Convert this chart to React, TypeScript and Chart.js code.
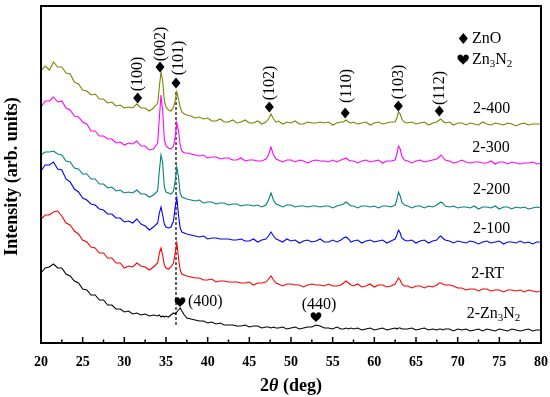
import React, { useEffect, useRef } from "react";
import { Chart, registerables } from "chart.js";
Chart.register(...registerables);

// 2θ grid (deg)
const twoTheta = [
  20, 20.5, 21, 21.5, 22, 22.5, 23, 23.5, 24, 24.5, 25, 25.5, 26, 26.5, 27, 27.5, 28, 28.5, 29, 29.5, 30, 30.5, 31, 31.5, 32, 32.5, 33, 33.5,
  34.0, 34.2, 34.4, 34.6, 34.8, 35.0, 35.3, 35.6, 35.9, 36.1, 36.3, 36.5, 36.7, 36.9, 37.2, 37.5,
  38, 38.5, 39, 39.5, 40, 40.5, 41, 41.5, 42, 42.5, 43, 43.5, 44, 44.5, 45, 45.5, 46, 46.5, 47,
  47.3, 47.6, 47.9, 48.2,
  48.5, 49, 49.5, 50, 50.5, 51, 51.5, 52, 52.5, 53, 53.5, 54, 54.5, 55, 55.5, 56,
  56.3, 56.6, 56.9, 57.2,
  57.5, 58, 58.5, 59, 59.5, 60, 60.5, 61, 61.5, 62, 62.5,
  62.7, 62.9, 63.1, 63.3, 63.6,
  64, 64.5, 65, 65.5, 66, 66.5, 67, 67.5,
  67.8, 68.0, 68.2, 68.5,
  69, 69.5, 70, 70.5, 71, 71.5, 72, 72.5, 73, 73.5, 74, 74.5, 75, 75.5, 76, 76.5, 77, 77.5, 78, 78.5, 79, 79.5, 80,
];

// Intensity (arb. units, offset stacked)
const s400 = [
  272, 277, 273, 281, 276, 276, 270, 269, 261, 259, 253, 252, 248, 249, 244, 244, 240, 241, 237, 238, 235, 236, 235, 239, 235, 235, 232, 235,
  240, 256, 271, 262, 242, 236, 233, 232, 236, 242, 251, 244, 236, 231, 229, 228,
  227, 225, 226, 224, 225, 222, 222, 224, 221, 221, 223, 220, 221, 223, 220, 220, 222, 219, 221,
  224, 229, 224, 221,
  222, 219, 221, 220, 222, 219, 219, 221, 220, 220, 221, 220, 221, 218, 220, 221,
  221, 223, 221, 220,
  221, 219, 220, 221, 218, 220, 221, 219, 220, 221, 221,
  225, 231, 229, 224, 221,
  220, 221, 219, 220, 221, 218, 220, 221,
  223, 224, 222, 220,
  221, 218, 220, 220, 218, 220, 219, 218, 221, 219, 218, 220, 219, 218, 220, 219, 217, 219, 220, 218, 219, 219, 219,
];
const s300 = [
  236, 242, 242, 246, 241, 242, 235, 233, 227, 226, 221, 219, 212, 212, 207, 207, 204, 204, 200, 201, 198, 200, 199, 202, 197, 197, 193, 194,
  200, 225, 248, 232, 203, 197, 195, 194, 197, 206, 220, 212, 198, 192, 190, 190,
  189, 188, 187, 188, 185, 186, 186, 184, 185, 185, 183, 183, 185, 182, 183, 183, 182, 182, 184,
  188, 196, 188, 184,
  183, 181, 183, 183, 181, 183, 182, 180, 182, 183, 182, 182, 181, 183, 181, 183,
  184, 185, 183, 182,
  182, 180, 182, 183, 181, 182, 183, 180, 182, 182, 183,
  189, 197, 194, 187, 183,
  182, 180, 182, 183, 181, 182, 183, 184,
  186, 188, 186, 183,
  182, 180, 181, 183, 181, 180, 181, 181, 180, 180, 182, 179, 181, 181, 179, 181, 180, 179, 180, 180, 181, 179, 180,
];
const s200 = [
  188, 191, 191, 192, 189, 188, 182, 181, 175, 174, 169, 169, 164, 164, 159, 159, 155, 156, 152, 153, 150, 151, 150, 153, 149, 149, 146, 148,
  152, 172, 188, 180, 156, 151, 150, 149, 152, 162, 176, 166, 150, 146, 145, 144,
  143, 142, 143, 140, 141, 141, 139, 140, 140, 138, 139, 139, 137, 138, 138, 137, 138, 136, 138,
  143, 150, 143, 139,
  138, 136, 138, 138, 136, 137, 137, 136, 137, 137, 136, 137, 137, 135, 137, 138,
  139, 141, 139, 137,
  137, 135, 137, 137, 136, 137, 135, 137, 137, 136, 138,
  143, 151, 147, 141, 138,
  137, 135, 137, 137, 135, 137, 136, 138,
  140, 141, 140, 137,
  136, 137, 135, 136, 136, 135, 137, 134, 136, 136, 135, 137, 134, 136, 136, 134, 136, 135, 136, 134, 135, 136, 135,
];
const s100 = [
  172, 178, 178, 181, 174, 173, 164, 161, 154, 151, 145, 143, 139, 138, 134, 133, 129, 129, 125, 125, 121, 122, 120, 124, 119, 117, 113, 116,
  120, 130, 136, 128, 119, 116, 115, 116, 122, 136, 145, 128, 115, 111, 110, 109,
  108, 107, 106, 107, 104, 105, 105, 104, 104, 104, 103, 103, 104, 102, 102, 104, 101, 103, 104,
  107, 111, 107, 104,
  103, 101, 104, 102, 103, 100, 102, 103, 101, 102, 104, 101, 101, 103, 101, 103,
  105, 106, 104, 101,
  102, 103, 100, 102, 103, 101, 102, 103, 100, 102, 104,
  108, 113, 110, 105, 103,
  102, 103, 100, 102, 103, 100, 102, 103,
  106, 107, 105, 103,
  102, 100, 102, 101, 100, 102, 101, 99, 101, 102, 100, 101, 102, 99, 101, 101, 100, 102, 100, 101, 99, 101, 101,
];
const sRT = [
  124, 128, 128, 131, 132, 127, 120, 118, 112, 109, 103, 101, 96, 95, 90, 90, 85, 85, 80, 80, 75, 77, 76, 80, 77, 76, 73, 76,
  80, 90, 95, 88, 78, 75, 74, 76, 80, 90, 100, 85, 73, 69, 68, 67,
  66, 65, 65, 63, 63, 64, 61, 62, 62, 61, 61, 61, 60, 60, 61, 58, 60, 60, 61,
  64, 67, 63, 60,
  59, 57, 59, 59, 58, 58, 56, 58, 59, 58, 58, 57, 59, 57, 57, 58,
  60, 62, 60, 58,
  57, 59, 56, 57, 59, 56, 58, 58, 56, 57, 59,
  62, 65, 63, 59, 57,
  57, 55, 57, 57, 55, 57, 56, 58,
  60, 60, 59, 58,
  58, 57, 55, 55, 53, 54, 54, 52, 54, 54, 52, 53, 53, 51, 53, 53, 52, 53, 51, 53, 52, 51, 52,
];
const sZn3N2 = [
  70, 75, 76, 79, 75, 75, 69, 67, 62, 60, 54, 53, 48, 48, 43, 43, 38, 38, 34, 34, 31, 32, 29, 30, 28, 29, 27, 28,
  27, 28, 26, 27, 26, 27, 26, 28, 30, 29, 31, 33, 35, 32, 28, 25,
  24, 23, 22, 22, 20, 21, 19, 20, 18, 18, 18, 17, 17, 18, 16, 17, 17, 15, 16,
  16, 15, 16, 15,
  15, 16, 14, 15, 16, 14, 15, 16, 16, 18, 17, 15, 15, 14, 16, 14,
  14, 15, 14, 15,
  14, 15, 13, 14, 15, 13, 14, 15, 13, 14, 15,
  14, 15, 15, 14, 14,
  14, 15, 13, 14, 15, 13, 14, 13,
  14, 14, 13, 14,
  14, 12, 14, 13, 14, 12, 13, 14, 12, 14, 13, 12, 14, 13, 12, 14, 13, 12, 13, 14, 12, 13, 13,
];

const seriesLabels = ["2-400", "2-300", "2-200", "2-100", "2-RT", "2-Zn3N2"];
const seriesValues = [s400, s300, s200, s100, sRT, sZn3N2];
const seriesColors = ["#808000", "#ff00ff", "#008080", "#0000ff", "#ff0000", "#000000"];

// reference dashed line at ZnO (101)
const refLineX = 36.2;
const refLineY = [18, 251];

// Peak annotations: [label, markerX, markerY, textX, textY]
const znoPeaks: [string, number, number, number, number][] = [
  ["(100)", 31.6, 245, 31.65, 269],
  ["(002)", 34.28, 276, 34.4, 299],
  ["(101)", 36.2, 260, 36.55, 285],
  ["(102)", 47.4, 236, 47.5, 260],
  ["(110)", 56.5, 230, 56.68, 257],
  ["(103)", 62.88, 237, 62.96, 261],
  ["(112)", 67.8, 232, 67.88, 255],
];
const zn3n2Peaks: [string, number, number, number, number, string][] = [
  ["(400)", 36.68, 41, 37.64, 41, "left"],
  ["(440)", 53.0, 26, 53.36, 38, "center"],
];
// sample label positions [x, y]
const sampleLabelPos: [number, number, string][] = [
  [74.08, 234.5, "center"],
  [74.0, 195, "center"],
  [74.08, 153, "center"],
  [74.08, 114.5, "center"],
  [73.6, 69.5, "center"],
  [71.08, 29.5, "left"],
];

const SERIF = "'Liberation Serif', 'Times New Roman', serif";

function drawDiamond(ctx: CanvasRenderingContext2D, x: number, y: number) {
  ctx.beginPath();
  ctx.moveTo(x, y - 5.5);
  ctx.lineTo(x + 4.5, y);
  ctx.lineTo(x, y + 5.5);
  ctx.lineTo(x - 4.5, y);
  ctx.closePath();
  ctx.fill();
}
function drawHeart(ctx: CanvasRenderingContext2D, x: number, y: number, s: number) {
  ctx.beginPath();
  ctx.moveTo(x, y + s * 0.55);
  ctx.bezierCurveTo(x - s * 0.1, y + s * 0.4, x - s * 0.6, y + s * 0.1, x - s * 0.6, y - s * 0.2);
  ctx.bezierCurveTo(x - s * 0.6, y - s * 0.6, x - s * 0.05, y - s * 0.65, x, y - s * 0.25);
  ctx.bezierCurveTo(x + s * 0.05, y - s * 0.65, x + s * 0.6, y - s * 0.6, x + s * 0.6, y - s * 0.2);
  ctx.bezierCurveTo(x + s * 0.6, y + s * 0.1, x + s * 0.1, y + s * 0.4, x, y + s * 0.55);
  ctx.closePath();
  ctx.fill();
}
function drawRich(ctx: CanvasRenderingContext2D, parts: [string, boolean][], x: number, y: number, size: number, align: string) {
  const main = `${size}px ${SERIF}`;
  const sub = `${Math.round(size * 0.68)}px ${SERIF}`;
  let w = 0;
  for (const [t, s] of parts) {
    ctx.font = s ? sub : main;
    w += ctx.measureText(t).width;
  }
  let cx = align === "center" ? x - w / 2 : x;
  ctx.textAlign = "left";
  ctx.textBaseline = "middle";
  for (const [t, s] of parts) {
    ctx.font = s ? sub : main;
    ctx.fillText(t, cx, s ? y + 5 : y);
    cx += ctx.measureText(t).width;
  }
}
function splitSub(label: string): [string, boolean][] {
  if (label === "2-Zn3N2") return [["2-Zn", false], ["3", true], ["N", false], ["2", true]];
  return [[label, false]];
}

const annotPlugin = {
  id: "annot",
  afterDatasetsDraw(chart: any) {
    const ctx: CanvasRenderingContext2D = chart.ctx;
    const xs = chart.scales.x;
    const ys = chart.scales.y;
    const px = (v: number) => xs.getPixelForValue(v);
    const py = (v: number) => ys.getPixelForValue(v);
    const { left, right, top, bottom } = chart.chartArea;
    ctx.save();
    ctx.fillStyle = "#000";
    ctx.strokeStyle = "#000";
    ctx.lineWidth = 2;
    ctx.strokeRect(left, top, right - left, bottom - top);
    ctx.lineWidth = 1.5;
    for (let i = 0; i <= 24; i++) {
      const t = 20 + i * 2.5;
      const x = px(t);
      ctx.beginPath();
      ctx.moveTo(x, bottom);
      ctx.lineTo(x, bottom - (i % 2 === 0 ? 6 : 3.5));
      ctx.stroke();
    }
    for (const [lab, mx, my, tx, ty] of znoPeaks) {
      drawDiamond(ctx, px(mx), py(my));
      ctx.save();
      ctx.translate(px(tx), py(ty));
      ctx.rotate(-Math.PI / 2);
      ctx.font = `16px ${SERIF}`;
      ctx.textAlign = "center";
      ctx.textBaseline = "middle";
      ctx.fillText(lab, 0, 0);
      ctx.restore();
    }
    for (const [lab, mx, my, tx, ty, al] of zn3n2Peaks) {
      drawHeart(ctx, px(mx), py(my), 9);
      ctx.font = `16px ${SERIF}`;
      ctx.textAlign = al as CanvasTextAlign;
      ctx.textBaseline = "middle";
      ctx.fillText(lab, px(tx), py(ty));
    }
    seriesLabels.forEach((lab, i) => {
      const [x, y, al] = sampleLabelPos[i];
      drawRich(ctx, splitSub(lab), px(x), py(y), 16, al);
    });
    drawDiamond(ctx, px(70.68), py(304.5));
    drawRich(ctx, [["ZnO", false]], px(71.72), py(304.5), 16, "left");
    drawHeart(ctx, px(70.66), py(283.5), 9.5);
    drawRich(ctx, [["Zn", false], ["3", true], ["N", false], ["2", true]], px(71.72), py(283.5), 16, "left");
    ctx.save();
    ctx.translate(12, (top + bottom) / 2 + 2);
    ctx.rotate(-Math.PI / 2);
    ctx.font = `bold 18px ${SERIF}`;
    ctx.textAlign = "center";
    ctx.textBaseline = "middle";
    ctx.fillText("Intensity (arb. units)", 0, 0);
    ctx.restore();
    const p1 = "2", p2 = "\u03B8", p3 = " (deg)";
    const fB = `bold 18px ${SERIF}`, fI = `italic bold 18px ${SERIF}`;
    ctx.font = fB; const w1 = ctx.measureText(p1).width; const w3 = ctx.measureText(p3).width;
    ctx.font = fI; const w2 = ctx.measureText(p2).width;
    let cx = (left + right) / 2 - (w1 + w2 + w3) / 2;
    const cy = 386;
    ctx.textAlign = "left";
    ctx.textBaseline = "middle";
    ctx.font = fB; ctx.fillText(p1, cx, cy); cx += w1;
    ctx.font = fI; ctx.fillText(p2, cx, cy); cx += w2;
    ctx.font = fB; ctx.fillText(p3, cx, cy);
    ctx.restore();
  },
};

export default function App() {
  const ref = useRef<HTMLCanvasElement>(null);
  useEffect(() => {
    if (!ref.current) return;
    const n = twoTheta.length;
    const datasets: any[] = seriesValues.map((vals, k) => ({
      label: seriesLabels[k],
      data: twoTheta.slice(0, Math.min(n, vals.length)).map((x, i) => ({ x, y: vals[i] })),
      borderColor: seriesColors[k],
      borderWidth: 1.1,
      pointRadius: 0,
      fill: false,
      tension: 0,
    }));
    datasets.push({
      label: "ref",
      data: [
        { x: refLineX, y: refLineY[0] },
        { x: refLineX, y: refLineY[1] },
      ],
      borderColor: "#000",
      borderWidth: 1.2,
      borderDash: [3, 2],
      pointRadius: 0,
      fill: false,
    });
    const chart = new Chart(ref.current, {
      type: "line",
      data: { datasets },
      options: {
        animation: false,
        responsive: true,
        maintainAspectRatio: false,
        layout: { padding: { top: 6, right: 9, left: 0, bottom: 0 } },
        plugins: { legend: { display: false }, tooltip: { enabled: false } },
        scales: {
          x: {
            type: "linear",
            min: 20,
            max: 80,
            grid: { display: false },
            border: { display: false },
            ticks: {
              stepSize: 5,
              color: "#000",
              padding: 3,
              maxRotation: 0,
              font: { family: SERIF, size: 14, weight: "bold" },
            },
            afterFit: (s: any) => {
              s.height = 54;
              s.paddingRight = 0;
              s.paddingLeft = 0;
            },
          },
          y: {
            min: 0,
            max: 337,
            grid: { display: false },
            border: { display: false },
            ticks: { display: false },
            afterFit: (s: any) => {
              s.width = 41;
            },
          },
        },
      },
      plugins: [annotPlugin],
    });
    return () => chart.destroy();
  }, []);
  return (
    <div style={{ position: "fixed", left: 0, top: 0, width: 550, height: 397, background: "#fff" }}>
      <canvas ref={ref} />
    </div>
  );
}
